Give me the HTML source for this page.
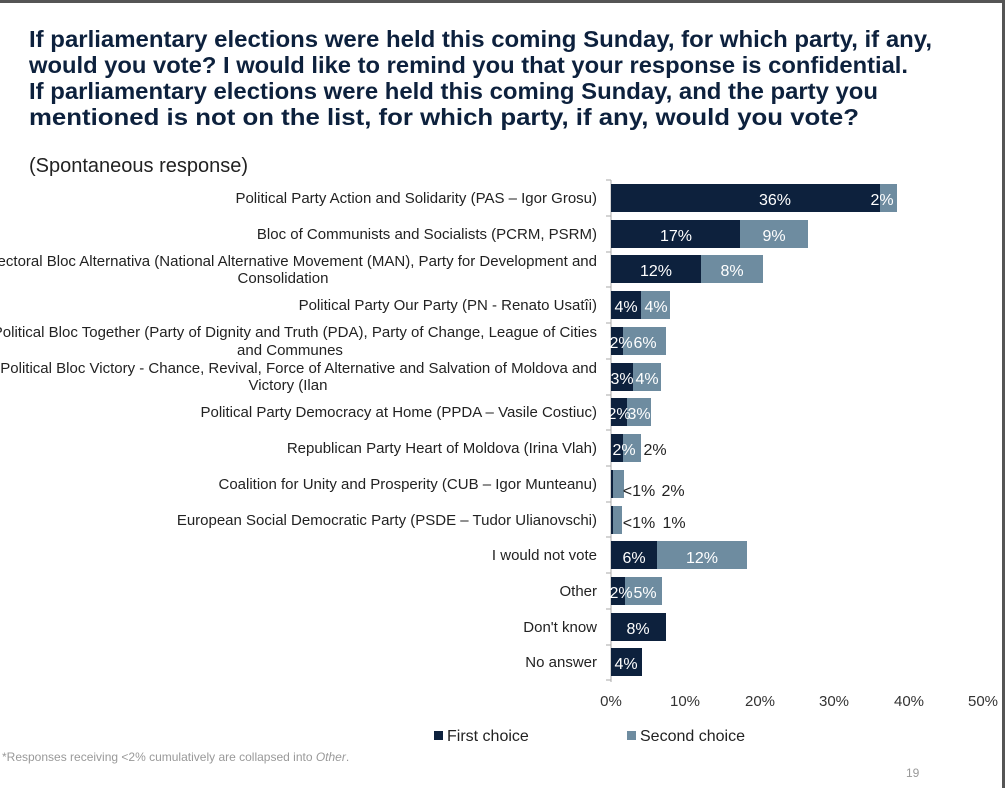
<!DOCTYPE html>
<html><head><meta charset="utf-8"><style>
body{margin:0;background:#fff;width:1005px;height:788px;overflow:hidden;font-family:"Liberation Sans",sans-serif}
</style></head><body>
<svg width="1005" height="788" xmlns="http://www.w3.org/2000/svg" font-family="Liberation Sans, sans-serif">
<rect x="0" y="0" width="1005" height="3" fill="#555"/>
<rect x="1002" y="0" width="3" height="788" fill="#555"/>
<g font-size="23.5" font-weight="bold" fill="#0d213d">
<text x="29" y="47" textLength="903" lengthAdjust="spacingAndGlyphs">If parliamentary elections were held this coming Sunday, for which party, if any,</text>
<text x="29" y="73" textLength="879" lengthAdjust="spacingAndGlyphs">would you vote? I would like to remind you that your response is confidential.</text>
<text x="29" y="99" textLength="849" lengthAdjust="spacingAndGlyphs">If parliamentary elections were held this coming Sunday, and the party you</text>
<text x="29" y="125" textLength="830" lengthAdjust="spacingAndGlyphs">mentioned is not on the list, for which party, if any, would you vote?</text>
</g>
<text x="29" y="172" font-size="20" fill="#222">(Spontaneous response)</text>
<g font-size="15" fill="#222" text-anchor="end">
<text x="597" y="203">Political Party Action and Solidarity (PAS – Igor Grosu)</text>
<text x="597" y="239">Bloc of Communists and Socialists (PCRM, PSRM)</text>
<text x="597" y="266">Electoral Bloc Alternativa (National Alternative Movement (MAN), Party for Development and</text>
<text x="283" y="283" text-anchor="middle">Consolidation</text>
<text x="597" y="310">Political Party Our Party (PN - Renato Usatîi)</text>
<text x="597" y="337">Political Bloc Together (Party of Dignity and Truth (PDA), Party of Change, League of Cities</text>
<text x="290" y="355" text-anchor="middle">and Communes</text>
<text x="597" y="373">Political Bloc Victory - Chance, Revival, Force of Alternative and Salvation of Moldova and</text>
<text x="288" y="390" text-anchor="middle">Victory (Ilan</text>
<text x="597" y="417">Political Party Democracy at Home (PPDA – Vasile Costiuc)</text>
<text x="597" y="453">Republican Party Heart of Moldova (Irina Vlah)</text>
<text x="597" y="489">Coalition for Unity and Prosperity (CUB – Igor Munteanu)</text>
<text x="597" y="525">European Social Democratic Party (PSDE – Tudor Ulianovschi)</text>
<text x="597" y="560">I would not vote</text>
<text x="597" y="596">Other</text>
<text x="597" y="632">Don't know</text>
<text x="597" y="667">No answer</text>
</g>
<line x1="611" y1="180" x2="611" y2="682" stroke="#aaa"/>
<g stroke="#aaa">
<line x1="606" y1="180" x2="611" y2="180"/><line x1="606" y1="216" x2="611" y2="216"/><line x1="606" y1="252" x2="611" y2="252"/><line x1="606" y1="287" x2="611" y2="287"/><line x1="606" y1="323" x2="611" y2="323"/><line x1="606" y1="359" x2="611" y2="359"/><line x1="606" y1="395" x2="611" y2="395"/><line x1="606" y1="430" x2="611" y2="430"/><line x1="606" y1="466" x2="611" y2="466"/><line x1="606" y1="502" x2="611" y2="502"/><line x1="606" y1="537" x2="611" y2="537"/><line x1="606" y1="573" x2="611" y2="573"/><line x1="606" y1="609" x2="611" y2="609"/><line x1="606" y1="645" x2="611" y2="645"/><line x1="606" y1="680" x2="611" y2="680"/>
</g>
<g>
<rect x="611" y="184" width="269" height="28" fill="#0d213d"/><rect x="880" y="184" width="17" height="28" fill="#6e8ca0"/>
<rect x="611" y="220" width="129" height="28" fill="#0d213d"/><rect x="740" y="220" width="68" height="28" fill="#6e8ca0"/>
<rect x="611" y="255" width="90" height="28" fill="#0d213d"/><rect x="701" y="255" width="62" height="28" fill="#6e8ca0"/>
<rect x="611" y="291" width="30" height="28" fill="#0d213d"/><rect x="641" y="291" width="29" height="28" fill="#6e8ca0"/>
<rect x="611" y="327" width="12" height="28" fill="#0d213d"/><rect x="623" y="327" width="43" height="28" fill="#6e8ca0"/>
<rect x="611" y="363" width="22" height="28" fill="#0d213d"/><rect x="633" y="363" width="28" height="28" fill="#6e8ca0"/>
<rect x="611" y="398" width="16" height="28" fill="#0d213d"/><rect x="627" y="398" width="24" height="28" fill="#6e8ca0"/>
<rect x="611" y="434" width="12" height="28" fill="#0d213d"/><rect x="623" y="434" width="18" height="28" fill="#6e8ca0"/>
<rect x="611" y="470" width="2" height="28" fill="#0d213d"/><rect x="613" y="470" width="11" height="28" fill="#6e8ca0"/>
<rect x="611" y="506" width="2" height="28" fill="#0d213d"/><rect x="613" y="506" width="9" height="28" fill="#6e8ca0"/>
<rect x="611" y="541" width="46" height="28" fill="#0d213d"/><rect x="657" y="541" width="90" height="28" fill="#6e8ca0"/>
<rect x="611" y="577" width="14" height="28" fill="#0d213d"/><rect x="625" y="577" width="37" height="28" fill="#6e8ca0"/>
<rect x="611" y="613" width="55" height="28" fill="#0d213d"/>
<rect x="611" y="648" width="31" height="28" fill="#0d213d"/>
</g>
<g font-size="16" fill="#fff" text-anchor="middle">
<text x="775" y="205">36%</text><text x="882" y="205">2%</text>
<text x="676" y="241">17%</text><text x="774" y="241">9%</text>
<text x="656" y="276">12%</text><text x="732" y="276">8%</text>
<text x="626" y="312">4%</text><text x="656" y="312">4%</text>
<text x="621" y="348">2%</text><text x="645" y="348">6%</text>
<text x="622" y="384">3%</text><text x="647" y="384">4%</text>
<text x="619" y="419">2%</text><text x="639" y="419">3%</text>
<text x="624" y="455">2%</text>
<text x="634" y="563">6%</text><text x="702" y="563">12%</text>
<text x="621" y="598">2%</text><text x="645" y="598">5%</text>
<text x="638" y="634">8%</text>
<text x="626" y="669">4%</text>
</g>
<g font-size="16" fill="#222" text-anchor="middle">
<text x="655" y="455">2%</text>
<text x="639" y="496">&lt;1%</text><text x="673" y="496">2%</text>
<text x="639" y="528">&lt;1%</text><text x="674" y="528">1%</text>
</g>
<g font-size="15" fill="#333" text-anchor="middle">
<text x="611" y="706">0%</text><text x="685" y="706">10%</text><text x="760" y="706">20%</text><text x="834" y="706">30%</text><text x="909" y="706">40%</text><text x="983" y="706">50%</text>
</g>
<rect x="434" y="731" width="9" height="9" fill="#0d213d"/>
<text x="447" y="741" font-size="16" fill="#222">First choice</text>
<rect x="627" y="731" width="9" height="9" fill="#6e8ca0"/>
<text x="640" y="741" font-size="16" fill="#222">Second choice</text>
<text x="2" y="761" font-size="12" fill="#999">*Responses receiving &lt;2% cumulatively are collapsed into <tspan font-style="italic">Other</tspan>.</text>
<text x="906" y="777" font-size="12" fill="#999">19</text>
</svg>
</body></html>
